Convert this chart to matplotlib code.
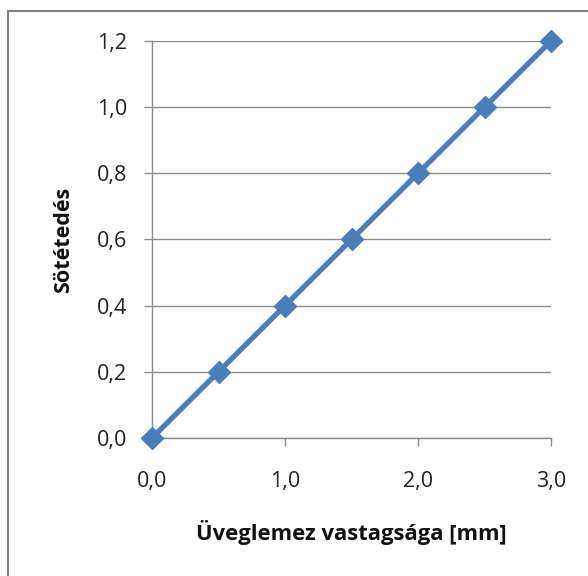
import numpy as np
import matplotlib.pyplot as plt
from matplotlib.patches import Rectangle

# Adatok
vastagsag = [0.0, 0.5, 1.0, 1.5, 2.0, 2.5, 3.0]
sotetedes = [0.0, 0.2, 0.4, 0.6, 0.8, 1.0, 1.2]
x_ticks = [0.0, 1.0, 2.0, 3.0]
y_ticks = [0.0, 0.2, 0.4, 0.6, 0.8, 1.0, 1.2]

kek = '#4A7EBB'
szurke = '#8C8C8C'

plt.rcParams['font.family'] = ['Open Sans', 'DejaVu Sans']

fig = plt.figure(figsize=(5.88, 5.76), dpi=100)
ax = fig.add_axes([152/588, 1 - 438/576, (551 - 152)/588, (438 - 41)/576])

ax.plot(vastagsag, sotetedes, color=kek, linewidth=3.8, marker='D',
        markersize=11, markerfacecolor=kek, markeredgecolor=kek, zorder=3,
        clip_on=False)

ax.set_xlim(0, 3.0)
ax.set_ylim(0, 1.2)
ax.set_xticks(x_ticks)
ax.set_yticks(y_ticks)
ax.set_xticklabels([f'{v:.1f}'.replace('.', ',') for v in x_ticks])
ax.set_yticklabels([f'{v:.1f}'.replace('.', ',') for v in y_ticks])

ax.grid(True, axis='y', color=szurke, linewidth=1)
ax.set_axisbelow(True)
for s in ['top', 'right']:
    ax.spines[s].set_visible(False)
for s in ['left', 'bottom']:
    ax.spines[s].set_color(szurke)
    ax.spines[s].set_linewidth(1)

ax.tick_params(axis='both', direction='out', length=6, width=1, color=szurke,
               labelsize=15.5, labelcolor='#222222')
ax.tick_params(axis='y', pad=12)
ax.tick_params(axis='x', pad=18)

ax.set_xlabel('Üveglemez vastagsága [mm]', fontsize=15.8, fontweight='bold',
              labelpad=20, color='#111111')
ax.set_ylabel('Sötétedés', fontsize=15.5, fontweight='bold', labelpad=16,
              color='#111111')

# Keret
fig.patches.append(Rectangle((8/588, -0.05), 1.1, 1 - 11/576 + 0.05,
                             transform=fig.transFigure, fill=False,
                             edgecolor='#808080', linewidth=1.5))

fig.savefig('out.png', dpi=100)
